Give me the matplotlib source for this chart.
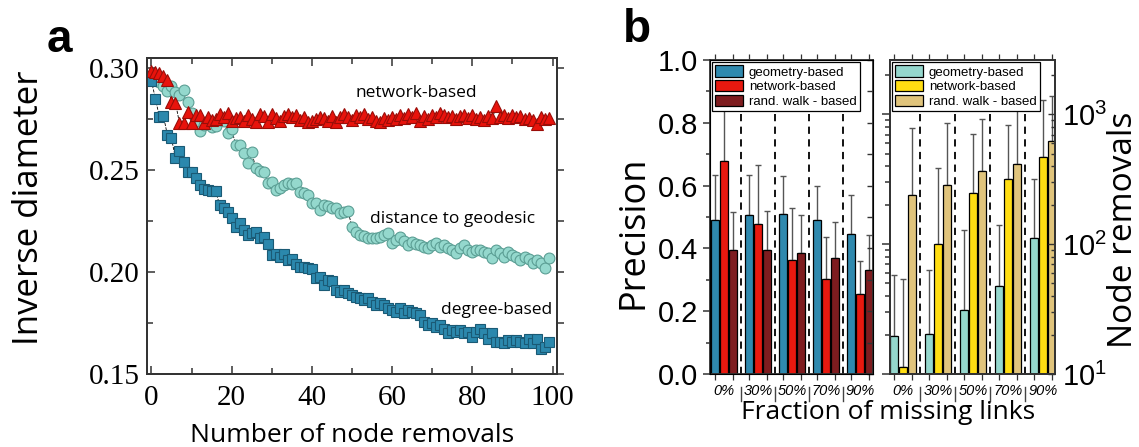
import numpy as np
import matplotlib
matplotlib.use('Agg')
import matplotlib.pyplot as plt
from matplotlib.ticker import MultipleLocator, FixedLocator, NullFormatter, LogLocator

plt.rcParams['font.family'] = ['Open Sans', 'DejaVu Sans']
plt.rcParams['mathtext.default'] = 'regular'

# ---- panel a data: inverse diameter vs number of node removals
removals = np.arange(100)
degree_based = [
    0.2938, 0.2850, 0.2760, 0.2766, 0.2670, 0.2656, 0.2558, 0.2596, 0.2538, 0.2493,
    0.2490, 0.2460, 0.2427, 0.2406, 0.2403, 0.2400, 0.2398, 0.2330, 0.2313, 0.2296,
    0.2264, 0.2223, 0.2242, 0.2206, 0.2180, 0.2190, 0.2198, 0.2165, 0.2173, 0.2140,
    0.2083, 0.2090, 0.2075, 0.2090, 0.2059, 0.2062, 0.2042, 0.2026, 0.2026, 0.2018,
    0.2013, 0.1969, 0.1977, 0.1936, 0.1961, 0.1956, 0.1912, 0.1903, 0.1912, 0.1895,
    0.1887, 0.1879, 0.1871, 0.1863, 0.1871, 0.1854, 0.1838, 0.1846, 0.1838, 0.1822,
    0.1813, 0.1805, 0.1822, 0.1797, 0.1813, 0.1805, 0.1797, 0.1789, 0.1756, 0.1740,
    0.1748, 0.1732, 0.1740, 0.1723, 0.1699, 0.1715, 0.1707, 0.1715, 0.1699, 0.1707,
    0.1682, 0.1707, 0.1723, 0.1699, 0.1674, 0.1699, 0.1658, 0.1658, 0.1650, 0.1666,
    0.1658, 0.1666, 0.1658, 0.1650, 0.1674, 0.1650, 0.1674, 0.1625, 0.1634, 0.1658]
geodesic = [
    0.2950, 0.2943, 0.2930, 0.2915, 0.2890, 0.2913, 0.2885, 0.2870, 0.2894, 0.2836,
    0.2780, 0.2740, 0.2690, 0.2720, 0.2740, 0.2710, 0.2715, 0.2745, 0.2740, 0.2680,
    0.2700, 0.2625, 0.2622, 0.2585, 0.2535, 0.2590, 0.2510, 0.2495, 0.2493, 0.2435,
    0.2444, 0.2403, 0.2411, 0.2425, 0.2435, 0.2430, 0.2435, 0.2394, 0.2386, 0.2380,
    0.2337, 0.2337, 0.2304, 0.2330, 0.2322, 0.2315, 0.2313, 0.2288, 0.2296, 0.2298,
    0.2223, 0.2198, 0.2182, 0.2177, 0.2165, 0.2168, 0.2165, 0.2172, 0.2182, 0.2193,
    0.2141, 0.2157, 0.2173, 0.2150, 0.2133, 0.2149, 0.2140, 0.2133, 0.2124, 0.2116,
    0.2133, 0.2144, 0.2124, 0.2133, 0.2116, 0.2110, 0.2092, 0.2116, 0.2133, 0.2108,
    0.2100, 0.2108, 0.2108, 0.2100, 0.2095, 0.2067, 0.2108, 0.2092, 0.2075, 0.2100,
    0.2083, 0.2075, 0.2060, 0.2075, 0.2065, 0.2043, 0.2059, 0.2045, 0.2018, 0.2067]
network_based = [
    0.2985, 0.2983, 0.2975, 0.2960, 0.2940, 0.2836, 0.2830, 0.2730, 0.2730, 0.2787,
    0.2730, 0.2770, 0.2770, 0.2730, 0.2760, 0.2745, 0.2750, 0.2775, 0.2760, 0.2780,
    0.2740, 0.2755, 0.2760, 0.2740, 0.2770, 0.2750, 0.2735, 0.2775, 0.2765, 0.2735,
    0.2775, 0.2755, 0.2740, 0.2765, 0.2775, 0.2760, 0.2770, 0.2745, 0.2760, 0.2735,
    0.2740, 0.2750, 0.2760, 0.2755, 0.2740, 0.2765, 0.2735, 0.2760, 0.2775, 0.2760,
    0.2745, 0.2770, 0.2760, 0.2775, 0.2750, 0.2760, 0.2740, 0.2735, 0.2755, 0.2745,
    0.2760, 0.2750, 0.2770, 0.2755, 0.2775, 0.2760, 0.2780, 0.2740, 0.2765, 0.2750,
    0.2770, 0.2760, 0.2780, 0.2770, 0.2760, 0.2765, 0.2750, 0.2765, 0.2770, 0.2755,
    0.2770, 0.2750, 0.2760, 0.2745, 0.2765, 0.2755, 0.2815, 0.2760, 0.2770, 0.2755,
    0.2770, 0.2760, 0.2765, 0.2750, 0.2755, 0.2745, 0.2725, 0.2760, 0.2750, 0.2755]

# ---- panel b data
fractions = ['0%', '30%', '50%', '70%', '90%']
methods = ['geometry-based', 'network-based', 'rand. walk - based']
# precision (bar value, top of error bar)
prec_geo = [0.489, 0.505, 0.510, 0.492, 0.445]
prec_geo_up = [0.633, 0.634, 0.632, 0.600, 0.571]
prec_net = [0.677, 0.478, 0.364, 0.303, 0.255]
prec_net_up = [0.930, 0.667, 0.528, 0.437, 0.359]
prec_rw = [0.395, 0.395, 0.385, 0.370, 0.330]
prec_rw_up = [0.515, 0.520, 0.507, 0.484, 0.442]
# node removals (bar value, top of error bar)
rem_geo = [19.6, 20.2, 31.4, 47.9, 112]
rem_geo_up = [58, 63, 128, 141, 321]
rem_net = [11.4, 100, 248, 320, 470]
rem_net_up = [53.9, 386, 708, 830, 1300]
rem_rw = [240, 285, 370, 417, 630]
rem_rw_up = [780, 865, 920, 1100, 1385]

W, H = 1139, 447
fig = plt.figure(figsize=(W / 100, H / 100), dpi=100)

def box(l, t, r, b):
    return [l / W, 1 - b / H, (r - l) / W, (b - t) / H]

spine_c = '#333333'
serif = 'Liberation Serif'
sans = 'Liberation Sans'

# ================= panel a =================
ax = fig.add_axes(box(147, 58, 557, 374))
ax.plot(removals, geodesic, ls='--', lw=0.6, color='k', zorder=1)
ax.plot(removals, degree_based, ls='--', lw=0.6, color='k', zorder=1)
ax.plot(removals, network_based, ls='--', lw=0.6, color='k', zorder=1)
ax.plot(removals, geodesic, ls='none', marker='o', ms=7.8, mfc='#94d8cd',
        mec='#5b9e94', mew=0.8, zorder=2)
ax.plot(removals, degree_based, ls='none', marker='s', ms=6.8, mfc='#2b88ad',
        mec='#1a5a75', mew=0.8, zorder=3)
ax.plot(removals, network_based, ls='none', marker='^', ms=8.5, mfc='#e8130c',
        mec='#9a0d08', mew=0.8, zorder=4)
ax.set_xlim(-1.1, 101.1)
ax.set_ylim(0.15, 0.305)
ax.xaxis.set_major_locator(MultipleLocator(20))
ax.xaxis.set_minor_locator(MultipleLocator(10))
ax.yaxis.set_major_locator(FixedLocator([0.15, 0.20, 0.25, 0.30]))
ax.yaxis.set_minor_locator(MultipleLocator(0.025))
ax.set_yticklabels(['0.15', '0.20', '0.25', '0.30'])
ax.tick_params(which='both', direction='in', top=True, right=False,
               colors=spine_c, labelcolor='k', width=1.1)
ax.tick_params(which='major', length=6, labelsize=21, pad=5)
ax.tick_params(axis='x', which='major', pad=8)
ax.tick_params(which='minor', length=4)
for lab in ax.get_xticklabels() + ax.get_yticklabels():
    lab.set_fontfamily(serif)
axr = ax.twinx()
axr.set_ylim(ax.get_ylim())
axr.yaxis.set_major_locator(MultipleLocator(0.025))
axr.yaxis.set_major_formatter(NullFormatter())
axr.tick_params(direction='out', length=5, width=1.1, colors=spine_c)
for a in (ax, axr):
    for s in a.spines.values():
        s.set_color(spine_c)
        s.set_linewidth(1.3)
ax.text(66, 0.2876, 'network-based', fontsize=12.5, ha='center', va='center')
ax.text(75, 0.2262, 'distance to geodesic', fontsize=12.5, ha='center', va='center')
ax.text(86, 0.1813, 'degree-based', fontsize=12.5, ha='center', va='center')
fig.text(29 / W, 1 - 208 / H, 'Inverse diameter', rotation=90, fontsize=25,
         ha='center', va='center')
fig.text(352 / W, 1 - 442 / H, 'Number of node removals', fontsize=19,
         ha='center', va='baseline')
fig.text(47 / W, 1 - 52 / H, 'a', fontsize=33, fontweight='bold',
         family=sans, ha='left', va='baseline')

# ================= panel b =================
x = np.arange(len(fractions))
offsets = [-0.255, 0.0, 0.255]
bw = 0.235

def bars(a, vals, ups, colors):
    for off, v, u, c, m in zip(offsets, vals, ups, colors, methods):
        a.bar(x + off, v, bw, color=c, edgecolor='k', linewidth=0.9,
              label=m, zorder=2)
        lo = np.zeros(len(v))
        hi = np.array(u) - np.array(v)
        a.errorbar(x + off, v, yerr=[lo, hi], fmt='none', ecolor='#555555',
                   elinewidth=1.0, capsize=2.5, capthick=1.0, zorder=1.5)
    for k in range(len(fractions) - 1):
        a.axvline(k + 0.5, ls=(0, (4, 3)), color='k', lw=1.3, zorder=1)
        a.plot([k + 0.5, k + 0.5], [-0.04, -0.085], color='#444444', lw=1.0,
               transform=a.get_xaxis_transform(), clip_on=False)
    a.set_xticks(x)
    a.set_xticklabels(fractions, fontsize=10.5, fontstyle='italic', family=sans)
    a.set_xticks(np.concatenate([x + o for o in offsets]), minor=True)
    a.tick_params(axis='x', which='major', length=0, pad=7)
    a.tick_params(axis='x', which='minor', direction='out', length=4,
                  top=True, width=0.9, colors=spine_c)
    for s in a.spines.values():
        s.set_color(spine_c)
        s.set_linewidth(1.3)
    leg = a.legend(loc='upper left', handlelength=2.1, handleheight=0.95,
                   labelspacing=0.12, borderpad=0.25, handletextpad=0.45,
                   borderaxespad=0.15, fancybox=False, framealpha=1,
                   edgecolor='k', prop={'family': sans, 'size': 9.5})
    leg.get_frame().set_linewidth(0.9)
    leg.set_zorder(5)

# left: precision
b1 = fig.add_axes(box(710, 60, 873, 374))
bars(b1, [prec_geo, prec_net, prec_rw], [prec_geo_up, prec_net_up, prec_rw_up],
     ['#2f89ae', '#e8190f', '#7e1c1f'])
b1.set_xlim(-0.41, 4.38)
b1.set_ylim(0, 1.0)
b1.yaxis.set_major_locator(MultipleLocator(0.2))
b1.yaxis.set_minor_locator(MultipleLocator(0.1))
b1.set_yticklabels(['%.1f' % v for v in b1.get_yticks()], family=sans)
b1.tick_params(axis='y', which='both', direction='out', colors=spine_c,
               labelcolor='k', labelsize=21, width=1.1)
b1.tick_params(axis='y', which='major', length=5)
b1.tick_params(axis='y', which='minor', length=3)
b1r = b1.twinx()
b1r.set_ylim(0, 1.0)
b1r.yaxis.set_major_locator(MultipleLocator(0.1))
b1r.yaxis.set_major_formatter(NullFormatter())
b1r.tick_params(direction='in', length=4, width=1.0, colors=spine_c)
fig.text(634 / W, 1 - 232 / H, 'Precision', rotation=90, fontsize=26,
         ha='center', va='center')
fig.text(623 / W, 1 - 42 / H, 'b', fontsize=33, fontweight='bold',
         family=sans, ha='left', va='baseline')

# right: node removals (log)
b2 = fig.add_axes(box(890, 60, 1055, 374))
b2.set_yscale('log')
bars(b2, [rem_geo, rem_net, rem_rw], [rem_geo_up, rem_net_up, rem_rw_up],
     ['#95d7cd', '#ffdd12', '#e0c47c'])
b2.set_xlim(-0.37, 4.35)
b2.set_ylim(10, 2630)
b2.yaxis.set_major_formatter(NullFormatter())
b2.yaxis.set_minor_formatter(NullFormatter())
b2.tick_params(axis='y', which='both', direction='out', colors=spine_c, width=1.1)
b2.tick_params(axis='y', which='major', length=6)
b2.tick_params(axis='y', which='minor', length=3.5)
b2r = b2.twinx()
b2r.set_yscale('log')
b2r.set_ylim(10, 2630)
b2r.set_yticks([10, 100, 1000])
b2r.set_yticklabels(['10$^{1}$', '10$^{2}$', '10$^{3}$'], family=sans)
b2r.yaxis.set_minor_locator(LogLocator(subs=np.arange(2, 10)))
b2r.yaxis.set_minor_formatter(NullFormatter())
b2r.tick_params(which='both', direction='in', colors=spine_c, labelcolor='k',
                labelsize=21, width=1.0, pad=5)
b2r.tick_params(which='major', length=5)
b2r.tick_params(which='minor', length=3)
for s in b2r.spines.values():
    s.set_color(spine_c)
    s.set_linewidth(1.3)
fig.text(1124 / W, 1 - 230 / H, 'Node removals', rotation=90, fontsize=24,
         ha='center', va='center')
fig.text(888 / W, 1 - 419 / H, 'Fraction of missing links', fontsize=19,
         ha='center', va='baseline')

fig.savefig('out.png', dpi=100)
